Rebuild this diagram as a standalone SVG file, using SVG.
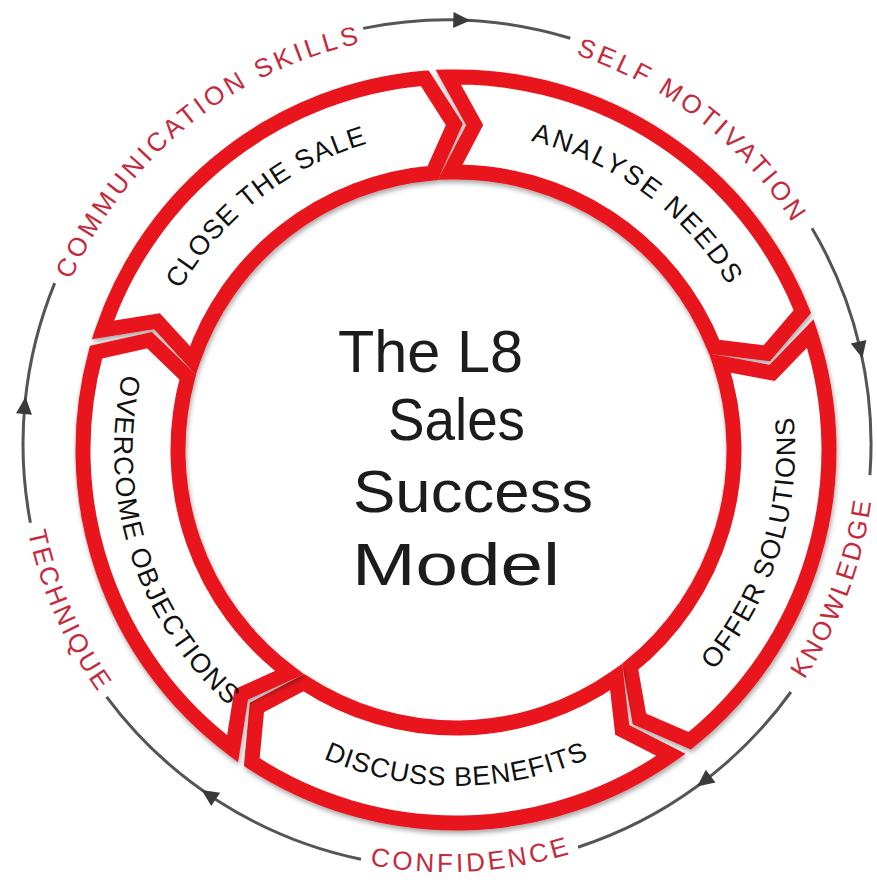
<svg xmlns="http://www.w3.org/2000/svg" xmlns:xlink="http://www.w3.org/1999/xlink" width="877" height="884" viewBox="0 0 877 884">
<style>
.seg{fill:#ffffff;stroke:#e8141c;stroke-width:15;stroke-linejoin:miter;filter:url(#sh)}
.lab{font-family:"Liberation Sans","Arial",sans-serif;font-size:27px;fill:#111111}
.out{font-family:"Liberation Sans","Arial",sans-serif;font-size:26px;fill:#c42a3c}
.arc{fill:none;stroke:#555555;stroke-width:3}
.ttl{font-family:"Liberation Sans","Arial",sans-serif;font-size:60px;fill:#1c1c1c}
</style>
<defs>
<filter id="sh" x="-10%" y="-10%" width="120%" height="120%">
<feDropShadow dx="1" dy="3" stdDeviation="2.5" flood-color="#000" flood-opacity="0.35"/>
</filter>
<path id="ah" d="M 457 20 L 440 12 L 440 28 Z" fill="#3a3a3a"/>
<path id="pClose" d="M 127.2 438.5 A 329 329 0 0 1 524.4 128.2"/>
<path id="pAnalyse" d="M 377.8 131.5 A 328 328 0 0 1 783.3 428.3"/>
<path id="pOffer" d="M 581.9 754.0 A 329 329 0 0 0 733.5 273.2"/>
<path id="pDiscuss" d="M 206.3 659.5 A 326 326 0 0 0 705.7 659.5"/>
<path id="pOvercome" d="M 175.1 273.1 A 332 332 0 0 0 330.6 757.4"/>
<path id="pComm" d="M 30.0 403.1 A 419 419 0 0 1 487.9 27.0"/>
<path id="pSelf" d="M 394.5 28.3 A 419 419 0 0 1 862.7 391.5"/>
<path id="pKnow" d="M 620.1 825.6 A 419 419 0 0 0 828.6 270.9"/>
<path id="pConf" d="M 167.2 755.9 A 419 419 0 0 0 758.9 723.8"/>
<path id="pTech" d="M 56.9 291.1 A 419 419 0 0 0 294.1 834.1"/>
</defs>
<rect width="877" height="884" fill="#ffffff"/>

<g id="connectors">
<path class="arc" d="M 363.2 28.4 A 424 424 0 0 1 570.3 38.3"/>
<path class="arc" d="M 812.0 228.2 A 424 424 0 0 1 869.9 475.1"/>
<path class="arc" d="M 790.9 692.0 A 424 424 0 0 1 578.0 847.2"/>
<path class="arc" d="M 361.0 859.2 A 424 424 0 0 1 106.6 696.8"/>
<path class="arc" d="M 30.4 522.7 A 424 424 0 0 1 54.7 283.1"/>
<use xlink:href="#ah" href="#ah" transform="rotate(1.8 447 444)"/>
<use xlink:href="#ah" href="#ah" transform="rotate(77 447 444)"/>
<use xlink:href="#ah" href="#ah" transform="rotate(142.5 447 444)"/>
<use xlink:href="#ah" href="#ah" transform="rotate(214 447 444)"/>
<use xlink:href="#ah" href="#ah" transform="rotate(275 447 444)"/>
</g>

<g id="label-communication"><text class="out" dy="9"><textPath xlink:href="#pComm" href="#pComm" startOffset="50%" text-anchor="middle" textLength="395" lengthAdjust="spacing">COMMUNICATION SKILLS</textPath></text></g>
<g id="label-self"><text class="out" dy="9"><textPath xlink:href="#pSelf" href="#pSelf" startOffset="50%" text-anchor="middle" textLength="285" lengthAdjust="spacing">SELF MOTIVATION</textPath></text></g>
<g id="label-knowledge"><text class="out" dy="9"><textPath xlink:href="#pKnow" href="#pKnow" startOffset="50%" text-anchor="middle" textLength="188" lengthAdjust="spacing">KNOWLEDGE</textPath></text></g>
<g id="label-confidence"><text class="out" dy="9"><textPath xlink:href="#pConf" href="#pConf" startOffset="50%" text-anchor="middle" textLength="198" lengthAdjust="spacing">CONFIDENCE</textPath></text></g>
<g id="label-technique"><text class="out" dy="9"><textPath xlink:href="#pTech" href="#pTech" startOffset="50%" text-anchor="middle" textLength="172" lengthAdjust="spacing">TECHNIQUE</textPath></text></g>

<g id="node-close">
<path class="seg" d="M 102.9 329.8 A 373 373 0 0 1 424.8 78.3 L 454.3 124.5 L 432.7 173.0 A 278 278 0 0 0 192.8 360.4 L 157.0 321.2 Z"/>
<text class="lab" dy="10"><textPath xlink:href="#pClose" href="#pClose" startOffset="50%" text-anchor="middle" textLength="250" lengthAdjust="spacing">CLOSE THE SALE</textPath></text>
</g>
<g id="node-analyse">
<path class="seg" d="M 448.2 77.1 A 373 373 0 0 1 802.3 311.5 L 766.8 353.2 L 714.1 346.8 A 278 278 0 0 0 450.2 172.1 L 474.7 125.0 Z"/>
<text class="lab" dy="10"><textPath xlink:href="#pAnalyse" href="#pAnalyse" startOffset="50%" text-anchor="middle" textLength="258" lengthAdjust="spacing">ANALYSE NEEDS</textPath></text>
</g>
<g id="node-offer">
<path class="seg" d="M 810.3 333.5 A 373 373 0 0 1 689.7 740.7 L 639.4 718.9 L 630.2 666.7 A 278 278 0 0 0 720.1 363.2 L 772.2 372.9 Z"/>
<text class="lab" dy="10"><textPath xlink:href="#pOffer" href="#pOffer" startOffset="50%" text-anchor="middle" textLength="265" lengthAdjust="spacing">OFFER SOLUTIONS</textPath></text>
</g>
<g id="node-discuss">
<path class="seg" d="M 671.0 754.8 A 373 373 0 0 1 251.8 762.1 L 256.9 707.5 L 303.8 682.6 A 278 278 0 0 0 616.2 677.2 L 622.2 729.9 Z"/>
<text class="lab" dy="10"><textPath xlink:href="#pDiscuss" href="#pDiscuss" startOffset="50%" text-anchor="middle" textLength="265" lengthAdjust="spacing">DISCUSS BENEFITS</textPath></text>
</g>
<g id="node-overcome">
<path class="seg" d="M 232.6 748.7 A 373 373 0 0 1 96.0 352.2 L 149.6 340.3 L 187.7 377.1 A 278 278 0 0 0 289.5 672.6 L 241.2 694.5 Z"/>
<text class="lab" dy="10"><textPath xlink:href="#pOvercome" href="#pOvercome" startOffset="50%" text-anchor="middle" textLength="355" lengthAdjust="spacing">OVERCOME OBJECTIONS</textPath></text>
</g>

<g id="title">
<text class="ttl" x="338" y="372" textLength="185" lengthAdjust="spacingAndGlyphs">The L8</text>
<text class="ttl" x="388" y="440" textLength="137" lengthAdjust="spacingAndGlyphs">Sales</text>
<text class="ttl" x="353" y="512" textLength="240" lengthAdjust="spacingAndGlyphs">Success</text>
<text class="ttl" x="352" y="585" textLength="208" lengthAdjust="spacingAndGlyphs">Model</text>
</g>
</svg>
